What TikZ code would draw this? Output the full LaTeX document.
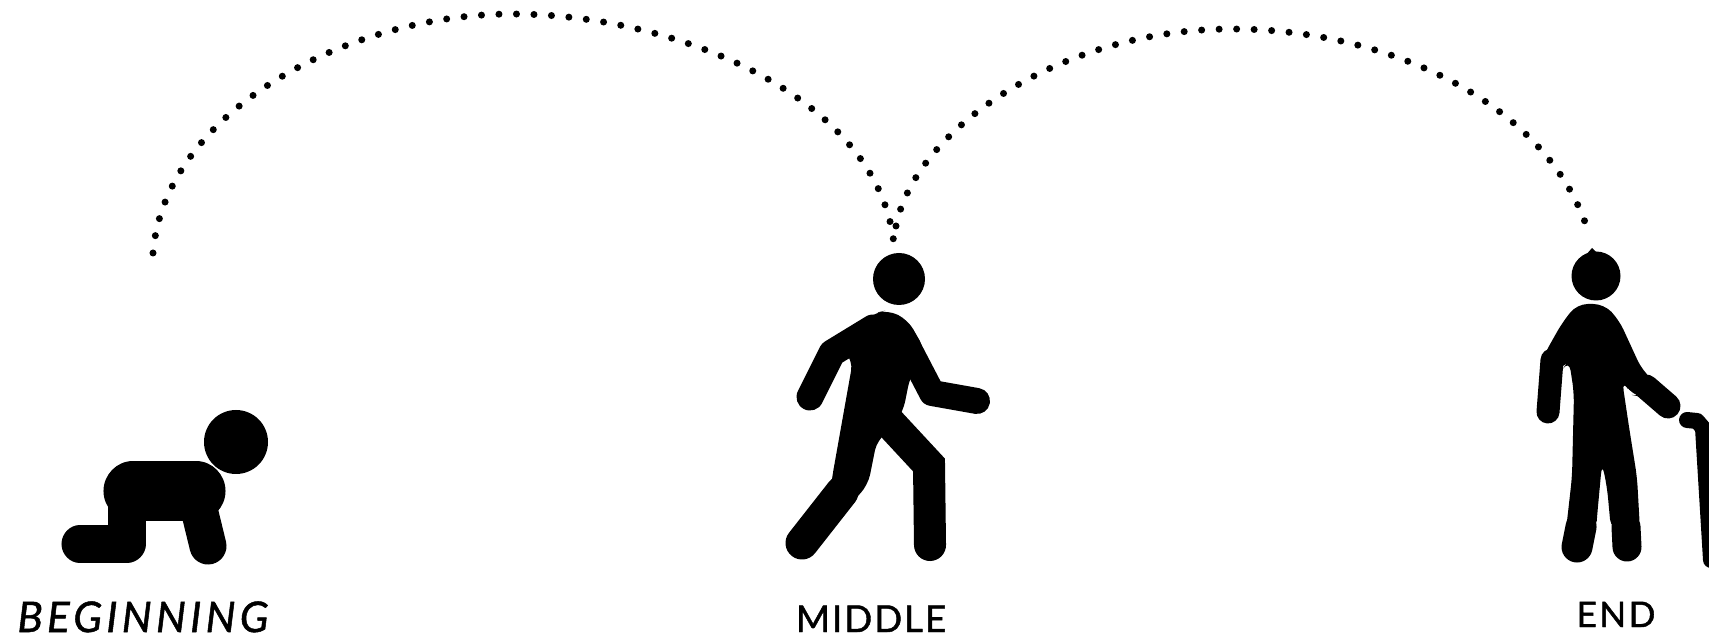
\documentclass[tikz,border=0pt]{standalone}
\usepackage{fontspec}
\setmainfont{Lato}
\newfontfamily\labelfont[FakeBold=1.2]{Lato}
\tikzset{
  arcdots/.style={line width=0.07cm, line cap=round, dash pattern=on 0pt off 0.175cm},
  limb/.style={line width=#1, line cap=round, line join=round},
  stagelabel/.style={inner sep=0pt, anchor=base}
}
\begin{document}
\begin{tikzpicture}[x=0.01cm,y=-0.01cm]
	\clip (0,0) rectangle (1709,637);
	\coordinate (crawlend) at (153,253);
	\coordinate (peakone) at (512,14);
	\coordinate (walktop) at (894,245);
	\coordinate (walkfork) at (896,226);
	\coordinate (peaktwo) at (1232,29);
	\coordinate (caneend) at (1589,234);
	\draw[arcdots] (crawlend) .. controls (165,110) and (350,14) .. (peakone) .. controls (680,14) and (880,100) .. (walktop);
	\draw[arcdots] (walkfork) .. controls (915,130) and (1060,29) .. (peaktwo) .. controls (1390,29) and (1550,105) .. (caneend);
	\fill (236,442) circle (32);
	\draw[limb=0.59cm] (133,491) -- (196,491);
	\draw[limb=0.37cm] (80,544) -- (127,544) -- (127,500);
	\draw[limb=0.37cm] (208,546) -- (198,505);
	\fill (899,279) circle (26);
	\fill[rounded corners=3pt] (875,313) -- (888,310) -- (908,320) -- (925,350) -- (910,377) -- (903,412) -- (890,430) -- (877,440) -- (868,485) -- (845,510) -- (830,495) -- (832,478) -- (853,360) -- (833,340) -- cycle;
	\draw[limb=0.27cm] (810,397) -- (832,353) -- (873,328);
	\draw[limb=0.26cm] (977,401) -- (932,393) -- (907,345);
	\draw[limb=0.33cm] (802,543) -- (842,492);
	\draw[limb=0.32cm, line join=miter] (930,545) -- (929,465) -- (890,423);
	\fill (1596,276) circle (24.5);
	\fill (1585,256) -- (1592,248) -- (1600,256) -- cycle;
	\fill[rounded corners=3pt] (1577,304) -- (1604,304) -- (1619,320) -- (1642,370) -- (1656,383) -- (1642,397) -- (1632,395) -- (1622,380) -- (1629,427) -- (1637,477) -- (1640,530) -- (1611,530) -- (1607,487) -- (1602,463) -- (1597,517) -- (1596,530) -- (1566,530) -- (1572,477) -- (1574,393) -- (1569,360) -- (1562,370) -- (1541,370) -- (1544,355) -- (1562,323) -- cycle;
	\draw[limb=0.23cm] (1548,412) -- (1552,360);
	\draw[limb=0.25cm] (1646,387) -- (1668,406);
	\draw[limb=0.31cm] (1577,547) -- (1581,527);
	\draw[limb=0.29cm] (1627,547) -- (1626,527);
	\draw[limb=0.16cm] (1687,420) -- (1697,421) -- (1703,428) -- (1711,560);
	\node[stagelabel, font=\labelfont\itshape\addfontfeature{LetterSpace=10}\fontsize{12pt}{12pt}\selectfont] (beginning) at (143,632) {BEGINNING};
	\node[stagelabel, font=\labelfont\addfontfeature{LetterSpace=5}\fontsize{10.5pt}{12pt}\selectfont] (middle) at (871,632) {MIDDLE};
	\node[stagelabel, font=\labelfont\addfontfeature{LetterSpace=7}\fontsize{10pt}{12pt}\selectfont] (ending) at (1616,627) {END};
\end{tikzpicture}
\end{document}
